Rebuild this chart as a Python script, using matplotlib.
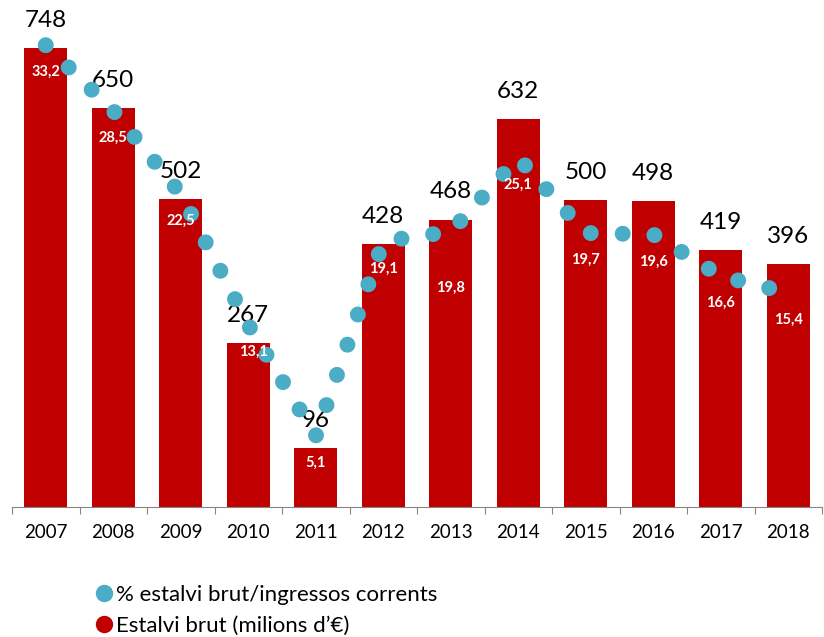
import numpy as np
import matplotlib.pyplot as plt
from matplotlib.lines import Line2D

plt.rcParams['font.family'] = ['Lato', 'DejaVu Sans']

# dades
anys = ['2007', '2008', '2009', '2010', '2011', '2012',
        '2013', '2014', '2015', '2016', '2017', '2018']
estalvi = [748, 650, 502, 267, 96, 428, 468, 632, 500, 498, 419, 396]
pct = [33.2, 28.5, 22.5, 13.1, 5.1, 19.1, 19.8, 25.1, 19.7, 19.6, 16.6, 15.4]

vermell = '#C00000'
blau = '#4BACC6'

# petits desplaçaments manuals de les etiquetes blanques (punts)
nudge = {3: (4, 0), 6: (0, -21)}

fig = plt.figure(figsize=(8.24, 6.37), dpi=100)
ax = fig.add_axes([12 / 824, 1 - 507 / 637, 810 / 824, 491 / 637])
x = np.arange(len(anys))

ax.bar(x, estalvi, width=0.63, color=vermell, zorder=2)
ax.set_xlim(-0.5, len(anys) - 0.5)
ax.set_ylim(0, 800)

for i, v in enumerate(estalvi):
    ax.annotate(str(v), (i, v), xytext=(0, 20), textcoords='offset points',
                ha='center', va='center', fontsize=17.5, color='black')

# eix x
for s in ['left', 'right', 'top']:
    ax.spines[s].set_visible(False)
ax.spines['bottom'].set_color('#868686')
ax.set_yticks([])
ax.set_xticks(np.arange(len(anys) + 1) - 0.5)
ax.set_xticklabels([])
ax.tick_params(axis='x', which='major', length=5, color='#868686', direction='out')
ax.set_xticks(x, minor=True)
ax.set_xticklabels(anys, minor=True, fontsize=13.5)
ax.tick_params(axis='x', which='minor', length=0, pad=12)

# eix secundari: percentatge
ax2 = ax.twinx()
ax2.set_ylim(0, 35.3)
ax2.axis('off')
ax2.plot(x, pct, color=blau, linewidth=11.5, linestyle=(0, (0.001, 2.0)),
         dash_capstyle='round', solid_capstyle='round', zorder=3)

for i, p in enumerate(pct):
    dx, dy = nudge.get(i, (0, 0))
    ax2.annotate(f'{p:.1f}'.replace('.', ','), (i, p), xytext=(dx, -19.5 + dy),
                 textcoords='offset points', ha='center', va='center',
                 fontsize=10.5, fontweight='bold', color='white', zorder=4)

handles = [
    Line2D([], [], marker='o', linestyle='none', markersize=11.5,
           markerfacecolor=blau, markeredgecolor=blau),
    Line2D([], [], marker='o', linestyle='none', markersize=11.5,
           markerfacecolor=vermell, markeredgecolor=vermell),
]
fig.legend(handles, ['% estalvi brut/ingressos corrents', 'Estalvi brut (milions d\u2019\u20ac)'],
           loc='upper left', bbox_to_anchor=(86 / 824, 1 - 574 / 637),
           frameon=False, fontsize=16, handlelength=0.6, handletextpad=0.25,
           labelspacing=0.5, borderpad=0)

fig.savefig('out.png', dpi=100)
